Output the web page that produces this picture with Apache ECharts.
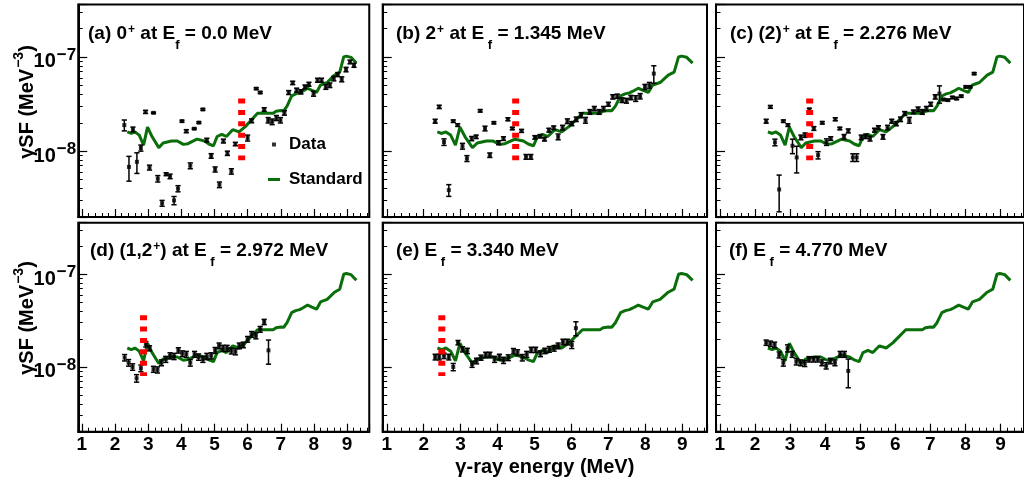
<!DOCTYPE html>
<html><head><meta charset="utf-8">
<script src="https://cdn.jsdelivr.net/npm/echarts@6/dist/echarts.min.js"></script>
<style>html,body{margin:0;padding:0;background:#fff}#c{width:1024px;height:480px}</style>
</head><body><div id="c"></div>
<script>
// values in units of 1e-8 MeV^-3
const UNIT = 1e-8;

const stdX = [2.37,2.49,2.60,2.73,2.86,2.98,3.12,3.32,3.45,3.70,3.88,4.06,4.20,4.47,4.70,4.83,4.97,5.08,5.22,5.36,5.55,5.74,5.93,6.12,6.30,6.59,6.77,6.86,7.00,7.09,7.19,7.33,7.45,7.57,7.65,7.81,7.94,8.08,8.20,8.40,8.62,8.78,8.90,8.98,9.12,9.28];
const stdY = [1.60,1.54,1.60,1.48,1.16,1.80,1.42,1.09,1.22,1.28,1.28,1.18,1.20,1.34,1.28,1.19,1.14,1.43,1.51,1.43,1.69,1.60,1.82,2.15,2.52,2.52,2.52,2.65,2.70,2.68,3.00,3.85,4.05,4.15,4.30,4.65,4.42,4.20,5.03,5.35,6.40,6.90,10.0,10.2,9.9,8.6];

const aX = [2.28,2.42,2.54,2.66,2.78,2.92,3.04,3.16,3.29,3.42,3.54,3.66,3.78,3.90,4.02,4.15,4.27,4.39,4.53,4.65,4.77,4.90,5.02,5.15,5.27,5.39,5.51,5.63,6.00,6.12,6.26,6.38,6.50,6.62,6.74,6.87,6.99,7.11,7.24,7.36,7.48,7.61,7.73,7.85,7.99,8.11,8.23,8.36,8.48,8.60,8.72,8.84,8.97,9.09,9.21];
const aY = [1.89,0.68,1.70,0.77,1.08,2.61,0.67,2.55,0.51,0.28,0.57,0.54,0.30,0.40,2.08,1.63,0.70,1.73,2.01,2.77,1.31,0.89,0.64,0.44,1.28,0.95,0.61,1.19,1.38,2.10,4.61,4.19,2.77,2.13,2.05,2.25,2.13,2.55,4.19,5.30,4.44,4.26,4.81,5.13,4.08,5.66,5.66,4.81,5.01,5.89,6.50,5.79,7.35,8.85,8.16];
const aE = [0.25,0.20,0.10,0.19,0.08,0.10,0.04,0.04,0.04,0.02,0.02,0.03,0.03,0.03,0.05,0.06,0.05,0.03,0.04,0.06,0.06,0.05,0.04,0.03,0.06,0.05,0.04,0.05,0.10,0.10,0.10,0.10,0.12,0.14,0.14,0.14,0.14,0.14,0.20,0.22,0.22,0.22,0.22,0.25,0.25,0.28,0.28,0.28,0.28,0.32,0.32,0.35,0.40,0.40,0.40];

const bX = [2.31,2.42,2.55,2.68,2.80,2.92,3.05,3.17,3.30,3.42,3.53,3.66,3.79,3.90,4.03,4.16,4.28,4.40,4.65,4.77,4.90,5.01,5.15,5.27,5.39,5.52,5.64,5.76,5.89,6.01,6.13,6.26,6.38,6.50,6.62,6.75,6.87,7.00,7.12,7.24,7.37,7.49,7.61,7.74,7.86,7.99,8.11,8.23];
const bY = [2.08,2.95,1.25,0.386,2.08,1.89,1.13,0.836,1.36,1.42,2.68,1.74,0.907,2.0,1.23,1.36,2.18,1.74,1.64,0.871,0.871,1.40,1.44,1.34,1.67,1.77,1.42,1.78,2.08,1.96,2.18,2.41,2.13,2.61,2.83,2.61,2.83,3.15,3.77,3.83,3.48,3.43,3.71,3.62,3.83,4.81,5.01,6.65];
const bE = [0.10,0.12,0.10,0.055,0.06,0.06,0.08,0.06,0.07,0.06,0.08,0.10,0.05,0.05,0.06,0.06,0.08,0.05,0.06,0.05,0.05,0.06,0.06,0.06,0.08,0.08,0.10,0.10,0.12,0.10,0.12,0.15,0.15,0.15,0.15,0.15,0.15,0.15,0.20,0.20,0.20,0.20,0.20,0.25,0.25,0.30,0.35,1.40];

const cX = [2.32,2.44,2.57,2.69,2.81,2.94,3.07,3.19,3.31,3.43,3.55,3.68,3.80,3.92,4.04,4.16,4.29,4.42,4.54,4.66,4.79,4.90,5.03,5.16,5.28,5.41,5.52,5.65,5.78,5.90,6.03,6.15,6.27,6.40,6.52,6.65,6.77,6.89,7.01,7.14,7.26,7.38,7.50,7.63,7.75,7.88,8.01,8.13,8.25];
const cY = [2.08,2.95,1.24,0.392,2.08,1.89,1.14,0.857,1.40,1.48,2.77,1.74,0.907,2.0,1.25,1.36,2.18,1.74,1.42,1.64,0.857,0.857,1.40,1.44,1.36,1.67,1.78,1.42,1.78,2.08,1.96,2.18,2.51,2.13,2.61,2.79,2.61,2.83,3.15,3.77,4.08,3.53,3.48,3.71,3.62,3.83,4.81,4.81,6.65];
const cE = [0.10,0.10,0.10,0.165,0.06,0.06,0.20,0.27,0.08,0.08,0.08,0.08,0.08,0.06,0.10,0.06,0.08,0.05,0.08,0.08,0.08,0.08,0.08,0.08,0.08,0.08,0.08,0.08,0.10,0.10,0.10,0.12,0.12,0.15,0.12,0.15,0.15,0.15,0.15,0.20,0.85,0.08,0.08,0.10,0.10,0.10,0.12,0.12,0.15];

const dX = [2.29,2.41,2.53,2.65,2.78,2.93,3.04,3.16,3.28,3.40,3.53,3.66,3.78,3.91,4.03,4.15,4.27,4.40,4.52,4.65,4.77,4.90,5.02,5.14,5.26,5.38,5.51,5.63,5.75,5.87,6.00,6.12,6.25,6.38,6.50,6.63];
const dY = [1.26,1.11,1.00,0.755,0.968,1.76,1.59,0.945,0.93,1.11,1.21,1.32,1.30,1.51,1.39,1.37,1.11,1.37,1.28,1.21,1.30,1.32,1.51,1.69,1.59,1.59,1.49,1.46,1.69,1.73,1.99,2.25,2.17,2.55,3.06,1.51];
const dE = [0.10,0.09,0.08,0.07,0.08,0.12,0.10,0.07,0.07,0.08,0.09,0.10,0.10,0.10,0.10,0.10,0.09,0.10,0.10,0.09,0.10,0.10,0.11,0.12,0.12,0.12,0.11,0.11,0.12,0.12,0.14,0.16,0.16,0.18,0.20,0.44];

const eX = [2.31,2.42,2.55,2.68,2.80,2.93,3.05,3.18,3.31,3.43,3.55,3.68,3.79,3.92,4.05,4.16,4.29,4.43,4.54,4.67,4.79,4.91,5.03,5.16,5.28,5.40,5.53,5.64,5.77,5.89,6.01,6.12];
const eY = [1.28,1.28,1.32,1.28,1.00,1.83,1.55,1.49,1.07,1.16,1.26,1.35,1.35,1.21,1.28,1.18,1.26,1.48,1.43,1.26,1.37,1.53,1.53,1.39,1.49,1.55,1.59,1.69,1.86,1.86,1.73,2.62];
const eE = [0.09,0.09,0.09,0.09,0.09,0.10,0.10,0.10,0.08,0.08,0.08,0.09,0.09,0.09,0.09,0.09,0.09,0.10,0.10,0.10,0.10,0.10,0.10,0.10,0.10,0.11,0.11,0.12,0.13,0.13,0.15,0.45];

const fX = [2.32,2.44,2.56,2.69,2.81,2.93,3.06,3.18,3.30,3.42,3.54,3.67,3.79,3.91,4.03,4.15,4.28,4.43,4.55,4.66];
const fY = [1.83,1.78,1.73,1.35,1.11,1.59,1.37,1.14,1.11,1.09,1.21,1.21,1.21,1.11,1.03,1.16,1.11,1.37,1.37,0.906];
const fE = [0.12,0.12,0.12,0.10,0.09,0.14,0.10,0.09,0.08,0.08,0.08,0.08,0.08,0.08,0.08,0.08,0.08,0.10,0.10,0.31];

// red dashed markers (x position per panel, null = none), y span
const redX = [5.82, 4.49, 3.56, 2.86, 2.49, null];
const redSpan = [3.62, 0.80];

const panelTitles = [
  '{t|(a) 0}{sup|+}{t| at E}{sub|f}{t| = 0.0 MeV}',
  '{t|(b) 2}{sup|+}{t| at E}{sub| f}{t| = 1.345 MeV}',
  '{t|(c) (2)}{sup|+}{t| at E}{sub| f}{t| = 2.276 MeV}',
  '{t|(d) (1,2}{sup|+}{t|) at E}{sub| f}{t| = 2.972 MeV}',
  '{t|(e) E}{sub| f}{t| = 3.340 MeV}',
  '{t|(f) E}{sub| f}{t| = 4.770 MeV}'
];
const xTitle = 'γ-ray energy (MeV)';
const yTitle = '{t|γSF (MeV}{s|−3}{t|)}';

const panels = [[aX,aY,aE],[bX,bY,bE],[cX,cY,cE],[dX,dY,dE],[eX,eY,eE],[fX,fY,fE]];

const FONT = '"Liberation Sans", Arial, Helvetica, sans-serif';
const GREEN = '#0a6e0a';
const XMIN = 0.89, XMAX = 9.67, YMIN = 2e-9, YMAX = 3.6e-7;

const grids = [
  {left: 78.25, top: 4.5, width: 291, height: 212.5},
  {left: 382.7, top: 4.5, width: 324.3, height: 212.5},
  {left: 716.0, top: 4.5, width: 312.1, height: 212.5},
  {left: 78.25, top: 222.7, width: 291, height: 209},
  {left: 382.7, top: 222.7, width: 324.3, height: 209},
  {left: 716.0, top: 222.7, width: 312.1, height: 209}
].map(g => Object.assign({show: true, borderColor: '#000', borderWidth: 2, backgroundColor: 'transparent'}, g));

const titlePos = [[88, 24], [396, 24], [730, 24], [90, 241], [396, 241], [729, 241]];
const yTitlePos = [[25, 102], [25, 318]];

const richT = {
  t: {fontSize: 19, fontWeight: 'bold', fontFamily: FONT, color: '#000', verticalAlign: 'top'},
  sup: {fontSize: 12, fontWeight: 'bold', fontFamily: FONT, color: '#000', verticalAlign: 'top', padding: [0, 0, 0, 1]},
  sub: {fontSize: 13, fontWeight: 'bold', fontFamily: FONT, color: '#000', verticalAlign: 'top', padding: [15, 0, 0, 0]}
};

const xAxes = grids.map((g, i) => ({
  gridIndex: i, type: 'value', min: XMIN, max: XMAX, splitNumber: 10,
  axisLine: {show: true, onZero: false, lineStyle: {color: '#000', width: 2}},
  axisTick: {show: true, inside: true, length: 8, lineStyle: {color: '#000', width: 1.2}},
  minorTick: {show: true, splitNumber: 5, length: 4, lineStyle: {color: '#000', width: 1}},
  splitLine: {show: false}, minorSplitLine: {show: false},
  axisLabel: {
    show: i >= 3, showMinLabel: false, showMaxLabel: false, margin: 4,
    formatter: v => Math.abs(v - Math.round(v)) < 1e-6 ? String(Math.round(v)) : '',
    fontSize: 19, fontWeight: 'bold', fontFamily: FONT, color: '#000'
  },
  name: i === 4 ? xTitle : '', nameLocation: 'middle', nameGap: 26,
  nameTextStyle: {fontSize: 20, fontWeight: 'bold', fontFamily: FONT, color: '#000'}
}));

const yAxes = grids.map((g, i) => ({
  gridIndex: i, type: 'log', logBase: 10, min: YMIN, max: YMAX,
  axisLine: {show: true, onZero: false, lineStyle: {color: '#000', width: 2}},
  axisTick: {show: true, inside: true, length: 9, lineStyle: {color: '#000', width: 1.2}},
  minorTick: {show: true, splitNumber: 9, length: 4.5, lineStyle: {color: '#000', width: 1}},
  splitLine: {show: false}, minorSplitLine: {show: false},
  axisLabel: {
    show: i === 0 || i === 3, showMinLabel: false, showMaxLabel: false, margin: 2,
    formatter: v => {
      const e = Math.log10(v);
      if (Math.abs(e - Math.round(e)) > 1e-6) return '';
      return '{b|10}{s|−' + (-Math.round(e)) + '}';
    },
    rich: {
      b: {fontSize: 20, fontWeight: 'bold', fontFamily: FONT, color: '#000', verticalAlign: 'top', padding: [10, 0, 0, 0]},
      s: {fontSize: 17, fontWeight: 'bold', fontFamily: FONT, color: '#000', verticalAlign: 'top', padding: [5, 0, 0, 1]}
    }
  }
}));

const series = [];
panels.forEach((p, i) => {
  const [X, Y, E] = p;
  series.push({
    name: 'Standard', type: 'line', xAxisIndex: i, yAxisIndex: i,
    data: stdX.map((x, k) => [x, stdY[k] * UNIT]),
    symbol: 'none', lineStyle: {color: GREEN, width: 3}, itemStyle: {color: GREEN}, z: 2, silent: true
  });
  if (redX[i] !== null) {
    series.push({
      name: 'marker', type: 'line', xAxisIndex: i, yAxisIndex: i,
      data: [[redX[i], redSpan[0] * UNIT], [redX[i], redSpan[1] * UNIT]],
      symbol: 'none', lineStyle: {color: '#ff0000', width: 7, type: [5, 6.4], cap: 'butt'}, z: 4, silent: true
    });
  }
  series.push({
    name: 'err', type: 'custom', xAxisIndex: i, yAxisIndex: i,
    data: X.map((x, k) => [x, Y[k] * UNIT, (Y[k] - E[k]) * UNIT, (Y[k] + E[k]) * UNIT]),
    encode: {x: 0, y: 1},
    renderItem: (params, api) => {
      const x = api.value(0);
      const top = api.coord([x, api.value(3)]);
      const bot = api.coord([x, api.value(2)]);
      const cw = 2.6;
      const st = {stroke: '#000', lineWidth: 1.5};
      return {type: 'group', children: [
        {type: 'line', shape: {x1: top[0], y1: top[1], x2: bot[0], y2: bot[1]}, style: st},
        {type: 'line', shape: {x1: top[0] - cw, y1: top[1], x2: top[0] + cw, y2: top[1]}, style: st},
        {type: 'line', shape: {x1: bot[0] - cw, y1: bot[1], x2: bot[0] + cw, y2: bot[1]}, style: st}
      ]};
    },
    z: 3, silent: true
  });
  series.push({
    name: 'Data', type: 'scatter', xAxisIndex: i, yAxisIndex: i,
    data: X.map((x, k) => [x, Y[k] * UNIT]),
    symbol: 'rect', symbolSize: 4, itemStyle: {color: '#000'}, z: 3, silent: true
  });
});

const yTitleRich = {
  t: {fontSize: 20, fontWeight: 'bold', fontFamily: FONT, fill: '#000', verticalAlign: 'top', padding: [5, 0, 0, 0]},
  s: {fontSize: 14, fontWeight: 'bold', fontFamily: FONT, fill: '#000', verticalAlign: 'top', padding: [0, 0, 0, 1]}
};

const chart = echarts.init(document.getElementById('c'), null, {renderer: 'canvas'});
chart.setOption({
  animation: false,
  backgroundColor: '#fff',
  grid: grids,
  xAxis: xAxes,
  yAxis: yAxes,
  title: panelTitles.map((t, i) => ({
    text: t, left: titlePos[i][0], top: titlePos[i][1], padding: 0,
    textStyle: {rich: richT}
  })),
  graphic: yTitlePos.map(p => ({
    type: 'text', x: p[0], y: p[1], rotation: Math.PI / 2, silent: true,
    style: {text: yTitle, rich: yTitleRich, align: 'center', verticalAlign: 'middle', fill: '#000',
            fontSize: 20, fontWeight: 'bold', fontFamily: FONT}
  })),
  legend: [
    {data: [{name: 'Data', icon: 'rect'}], left: 272, top: 136, itemWidth: 4, itemHeight: 4, padding: 0,
     selectedMode: false, textStyle: {fontSize: 17, fontWeight: 'bold', fontFamily: FONT, color: '#000', padding: [0, 0, 0, 8]}},
    {data: [{name: 'Standard', icon: 'rect'}], left: 268, top: 171, itemWidth: 12, itemHeight: 3, padding: 0,
     selectedMode: false, textStyle: {fontSize: 17, fontWeight: 'bold', fontFamily: FONT, color: '#000', padding: [0, 0, 0, 4]}}
  ],
  series: series
});
</script></body></html>
